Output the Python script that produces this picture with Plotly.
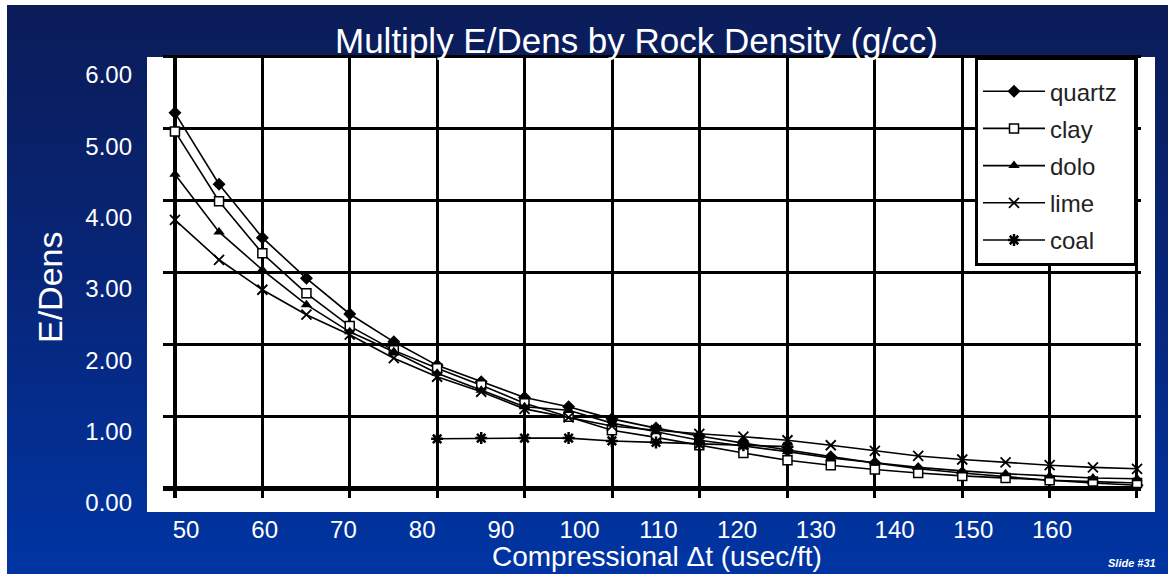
import base64
import plotly.graph_objects as go

W, H = 1176, 574

# ---------------- data ----------------
dt = [48.6, 54.2, 59.7, 65.3, 70.8, 76.4, 81.9, 87.5, 93.0, 98.6, 104.1, 109.7,
      115.2, 120.8, 126.4, 131.9, 137.5, 143.0, 148.6, 154.1, 159.7, 165.2, 170.8]
quartz = [5.47, 4.47, 3.72, 3.15, 2.65, 2.26, 1.93, 1.70, 1.48, 1.35, 1.18, 1.05,
          0.94, 0.84, 0.74, 0.65, 0.56, 0.48, 0.42, 0.37, 0.32, 0.28, 0.25]
clay = [5.21, 4.23, 3.50, 2.94, 2.48, 2.14, 1.89, 1.65, 1.40, 1.21, 1.02, 0.92,
        0.81, 0.70, 0.60, 0.53, 0.47, 0.42, 0.38, 0.35, 0.32, 0.30, 0.28]
dolo = [4.61, 3.80, 3.27, 2.78, 2.40, 2.12, 1.82, 1.58, 1.35, 1.30, 1.12, 1.00,
        0.88, 0.80, 0.72, 0.63, 0.56, 0.50, 0.45, 0.41, 0.38, 0.35, 0.34]
lime = [3.97, 3.41, 2.99, 2.64, 2.36, 2.03, 1.77, 1.56, 1.32, 1.20, 1.08, 1.02,
        0.97, 0.93, 0.88, 0.81, 0.73, 0.66, 0.61, 0.57, 0.53, 0.50, 0.48]
coal_dt = [81.9, 87.5, 93.0, 98.6, 104.1, 109.7, 115.2, 120.8, 126.4]
coal = [0.90, 0.91, 0.91, 0.91, 0.87, 0.85, 0.83, 0.81, 0.79]

x_tick_vals = [50, 60, 70, 80, 90, 100, 110, 120, 130, 140, 150, 160]
y_tick_vals = [0, 1, 2, 3, 4, 5, 6]
y_tick_text = ["0.00", "1.00", "2.00", "3.00", "4.00", "5.00", "6.00"]


def fx(p):
    return p / W


def fy(p):
    return 1 - p / H


FONT = "Liberation Sans, Arial, sans-serif"

fig = go.Figure()

# empty trace so the grid subplot is built
fig.add_trace(go.Scatter(x=[None], y=[None], xaxis="x", yaxis="y",
                         showlegend=False, hoverinfo="skip"))

series = [
    ("quartz", quartz, dt, dict(symbol="diamond", size=10, color="black")),
    ("clay", clay, dt, dict(symbol="square", size=9, color="white",
                            line=dict(color="black", width=1.5))),
    ("dolo", dolo, dt, dict(symbol="triangle-up", size=10, color="black")),
    ("lime", lime, dt, dict(symbol="x-thin", size=10, color="black",
                            line=dict(color="black", width=1.8))),
    ("coal", coal, coal_dt, dict(symbol="asterisk", size=10, color="black",
                                 line=dict(color="black", width=2.5))),
]
for name, vals, xs, mk in series:
    fig.add_trace(go.Scatter(
        x=xs, y=vals, name=name, mode="lines+markers",
        line=dict(color="black", width=1.6), marker=mk,
        xaxis="x2", yaxis="y2", legendgroup=name,
    ))

svg = ("<svg xmlns='http://www.w3.org/2000/svg' width='100' height='100' "
       "preserveAspectRatio='none'><defs><linearGradient id='g' x1='0' y1='0' "
       "x2='0' y2='1'><stop offset='0' stop-color='#0b1c58'/>"
       "<stop offset='0.5' stop-color='#07267a'/>"
       "<stop offset='1' stop-color='#0035a3'/></linearGradient></defs>"
       "<rect width='100' height='100' fill='url(#g)'/></svg>")
svg_uri = "data:image/svg+xml;base64," + base64.b64encode(svg.encode()).decode()

grid_common = dict(showgrid=True, gridcolor="black", gridwidth=3,
                   zeroline=True, zerolinecolor="black",
                   showticklabels=False, ticks="", showline=False,
                   tickmode="linear", tick0=0, dtick=1, fixedrange=True,
                   automargin=False)

fig.update_layout(
    width=W, height=H,
    template="none",
    margin=dict(l=0, r=0, t=0, b=0, pad=0),
    paper_bgcolor="white",
    plot_bgcolor="rgba(0,0,0,0)",
    showlegend=True,
    font=dict(family=FONT, color="white"),
    xaxis=dict(domain=[fx(163), fx(1141)], range=[-0.137, 11.046], anchor="y",
               zerolinewidth=4, **grid_common),
    yaxis=dict(domain=[fy(498), fy(55)], range=[-0.125, 6.014], anchor="x",
               zerolinewidth=5, **grid_common),
    xaxis2=dict(domain=[fx(147), fx(1155)], range=[45.05, 173.08], anchor="y2",
                showgrid=False, zeroline=False, showline=False, ticks="",
                tickmode="array", tickvals=x_tick_vals,
                ticktext=[str(v) for v in x_tick_vals],
                tickfont=dict(family=FONT, size=24, color="white"),
                ticklabelstandoff=1, automargin=False, fixedrange=True),
    yaxis2=dict(domain=[fy(512), fy(57)], range=[-0.126, 6.253], anchor="x2",
                showgrid=False, zeroline=False, showline=False, ticks="",
                tickmode="array", tickvals=y_tick_vals, ticktext=y_tick_text,
                tickfont=dict(family=FONT, size=24, color="white"),
                ticklabelstandoff=14, automargin=False, fixedrange=True),
    legend=dict(x=fx(975), y=fy(57), xanchor="left", yanchor="top",
                bgcolor="white", bordercolor="black", borderwidth=3,
                font=dict(family=FONT, size=24, color="#222222"),
                title=dict(text="\u00a0" * 78, font=dict(size=7)),
                traceorder="grouped", tracegroupgap=3, itemwidth=62),
    images=[dict(source=svg_uri, xref="paper", yref="paper",
                 x=fx(7), y=fy(5), sizex=(1168 - 7) / W, sizey=(574 - 5) / H,
                 xanchor="left", yanchor="top", sizing="stretch", layer="below")],
    shapes=[dict(type="rect", xref="paper", yref="paper",
                 x0=fx(147), x1=fx(1155), y0=fy(512), y1=fy(57),
                 fillcolor="white", line=dict(width=0), layer="below")],
    annotations=[
        dict(text="Multiply E/Dens by Rock Density (g/cc)", x=fx(636), y=fy(41),
             xref="paper", yref="paper", xanchor="center", yanchor="middle",
             showarrow=False, font=dict(family=FONT, size=35, color="white")),
        dict(text="E/Dens", x=fx(50), y=fy(287), xref="paper", yref="paper",
             xanchor="center", yanchor="middle", textangle=-90, showarrow=False,
             font=dict(family=FONT, size=34, color="white")),
        dict(text="Compressional \u0394t (usec/ft)", x=fx(657), y=0,
             xref="paper", yref="paper", xanchor="center", yanchor="bottom",
             showarrow=False, font=dict(family=FONT, size=28, color="white")),
        dict(text="<b><i>Slide #31</i></b>", x=fx(1132), y=fy(563),
             xref="paper", yref="paper", xanchor="center", yanchor="middle",
             showarrow=False, font=dict(family=FONT, size=11, color="white")),
    ],
)

fig.write_html("out.html")
